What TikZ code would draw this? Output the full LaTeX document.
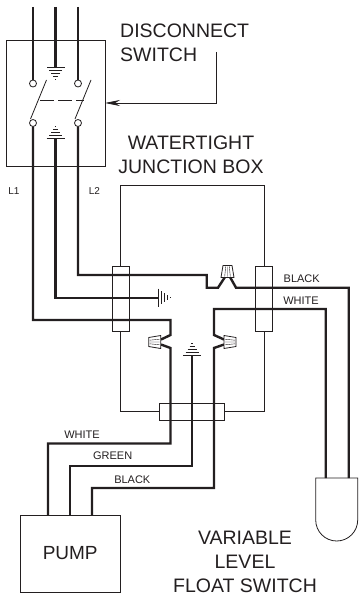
\documentclass[tikz,border=0pt]{standalone}
\usepackage{fontspec}
\setmainfont{Liberation Sans}
\usetikzlibrary{arrows.meta}

\definecolor{ink}{HTML}{231F20}

\tikzset{
    x=1pt,y=-1pt,
    box/.style={draw=ink,line width=0.8pt,fill=white,rectangle,inner sep=0pt,outer sep=0pt},
    wire/.style={draw=ink,line width=2.4pt,line join=miter},
    thin line/.style={draw=ink,line width=0.8pt},
    terminal/.style={circle,draw=ink,fill=white,line width=0.8pt,minimum size=7pt,inner sep=0pt,outer sep=0pt},
    big text/.style={text=ink,font=\fontsize{19.5}{24}\selectfont,align=center,inner sep=0pt},
    small text/.style={text=ink,font=\fontsize{11}{13}\selectfont,inner sep=0pt},
    wirenut/.pic={
        \draw[ink,line width=0.8pt,fill=white] (-6.5,0) -- (-4.5,-12) -- (4.5,-12) -- (6.5,0) -- cycle;
        \draw[ink,line width=0.4pt] (-2.8,-1) -- (-1.8,-11) (0,-1) -- (0,-11) (2.8,-1) -- (1.8,-11);
    },
    earth/.pic={
        \foreach \d/\w in {0/9,3/6.5,6/4.5,9/2.5,12/0.6}
            \draw[ink,line width=0.8pt] (-\w,-\d) -- (\w,-\d);
    }
}

\begin{document}
\begin{tikzpicture}
    \useasboundingbox (0,0) rectangle (359,599);

    \node[box,minimum width=99pt,minimum height=126pt] (switchbox) at (55.5,103) {};
    \node[box,minimum width=144pt,minimum height=226pt] (junctionbox) at (192,298.5) {};
    \node[box,minimum width=17pt,minimum height=65pt] (bushingL) at (120.5,298.5) {};
    \node[box,minimum width=17pt,minimum height=65pt] (bushingR) at (264,298.5) {};
    \node[box,minimum width=65pt,minimum height=17.5pt] (bushingB) at (192,412) {};
    \node[box,minimum width=99.5pt,minimum height=77pt,text=ink,font=\fontsize{19}{24}\selectfont] (pump) at (70.2,553.5) {PUMP};

    \draw[thin line] (315.7,478) -- (357.7,478) -- (357.7,520) arc (0:180:21) -- cycle;

    \coordinate (topL1) at (33,7);
    \coordinate (topG) at (55.5,7);
    \coordinate (topL2) at (78,7);
    \coordinate (gndA) at (55.5,67.5);
    \coordinate (gndB) at (55.5,138);
    \coordinate (gndC) at (158,297.7);
    \coordinate (gndD) at (192,355);
    \coordinate (pumpW) at (48,515);
    \coordinate (pumpG) at (70,515);
    \coordinate (pumpB) at (92,515);
    \coordinate (floatW) at (325.7,478);
    \coordinate (floatB) at (348.7,478);
    \coordinate (bend) at (216,103);

    \node[terminal] (t1) at (33,83.5) {};
    \node[terminal] (t2) at (78,83.5) {};
    \node[terminal] (t3) at (33,123) {};
    \node[terminal] (t4) at (78,123) {};

    \draw[wire] (topL1) -- (t1);
    \draw[wire] (topG) -- (gndA);
    \draw[wire] (topL2) -- (t2);
    \draw[wire] (gndB) -- (55.5,297.7) -- (gndC);
    \draw[wire] (t3) -- (33,320) -- (170.5,320) -- (170.5,335) -- (161,339.5);
    \draw[wire] (161,344.5) -- (170.5,348) -- (170.5,443.5) -- (48,443.5) -- (pumpW);
    \draw[wire] (t4) -- (78,275) -- (206.7,275) -- (206.7,287.7) -- (218,287.7) -- (225,277);
    \draw[wire] (230,277) -- (236,287.7) -- (348.7,287.7) -- (floatB);
    \draw[wire] (floatW) -- (325.7,309) -- (214,309) -- (214,335) -- (224,339.5);
    \draw[wire] (224,344.5) -- (214,348) -- (214,488) -- (92,488) -- (pumpB);
    \draw[wire] (gndD) -- (192,466) -- (70,466) -- (pumpG);

    \pic at (227.5,277.5) {wirenut};
    \pic[rotate=90] at (160.7,342) {wirenut};
    \pic[rotate=-90] at (224,342) {wirenut};
    \pic[rotate=180] at (gndA) {earth};
    \pic at (gndB) {earth};
    \pic[rotate=-90] at (gndC) {earth};
    \pic at (gndD) {earth};

    \draw[thin line] (t3) ++(-2.5,-4) -- (46.5,80);
    \draw[thin line] (t4) ++(-3,-4) -- (91,80);
    \draw[thin line,dash pattern=on 14pt off 4pt] (40,100) -- (84,100);

    \draw[thin line,-{Stealth[length=15pt,width=6pt]}] (216,52) -- (bend) -- (bend -| switchbox.east);

    \node[big text,align=left,anchor=west] (disconnect) at (120,43) {DISCONNECT\\SWITCH};
    \node[big text] (watertight) at (191,155) {WATERTIGHT\\JUNCTION BOX};
    \node[big text] (floatswitch) at (245,562) {VARIABLE\\LEVEL\\FLOAT SWITCH};

    \node[small text,font=\fontsize{10}{12}\selectfont] (lineA) at (14,191.5) {L1};
    \node[small text,font=\fontsize{10}{12}\selectfont] (lineB) at (94.5,191.5) {L2};
    \node[small text] (blackR) at (301.7,279) {BLACK};
    \node[small text] (whiteR) at (301,301) {WHITE};
    \node[small text] (whiteP) at (82,435) {WHITE};
    \node[small text] (greenP) at (112.7,456) {GREEN};
    \node[small text] (blackP) at (132.3,480) {BLACK};
\end{tikzpicture}
\end{document}
